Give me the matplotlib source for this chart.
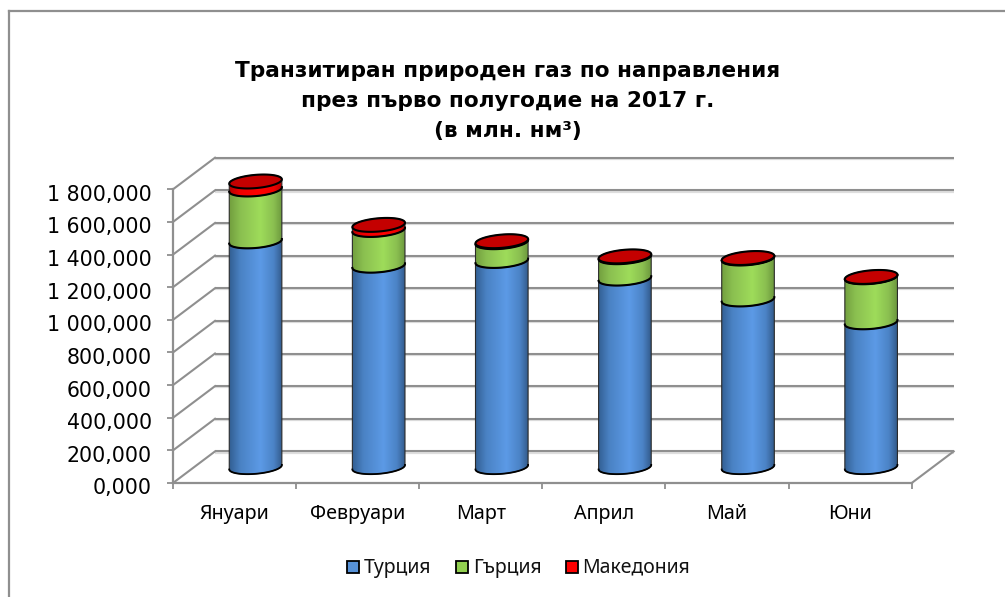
import numpy as np
import matplotlib
matplotlib.use("Agg")
import matplotlib.pyplot as plt
from matplotlib.colors import LinearSegmentedColormap
from matplotlib.lines import Line2D
from matplotlib.patches import PathPatch, Polygon, Rectangle
from matplotlib.path import Path
from matplotlib.transforms import ScaledTranslation

# ---- data ----
months = ["Януари", "Февруари", "Март", "Април", "Май", "Юни"]
turkey = [1384, 1235, 1264, 1156, 1028, 888]
greece = [318, 219, 115, 131, 251, 276]
macedonia = [49, 31, 6, 5, 3, 2]
series_names = ["Турция", "Гърция", "Македония"]
y_ticks = [0, 200, 400, 600, 800, 1000, 1200, 1400, 1600, 1800]
title = "Транзитиран природен газ по направления\nпрез първо полугодие на 2017 г.\n(в млн. нм³)"

# ---- style ----
W, H = 1005, 597
GRAY = "#8f8f8f"
LETTERS = ["Noto Sans", "DejaVu Sans"]
plt.rcParams["font.family"] = ["DejaVu Sans"]
fig = plt.figure(figsize=(W / 100, H / 100), dpi=100, facecolor="white")
L, R, B, T = 173.0, 911.7, 483.0, 189.3
ax = fig.add_axes([L / W, 1 - B / H, (R - L) / W, (B - T) / H])
ax.set_xlim(0, len(months))
ax.set_ylim(0, 1800)
ax.patch.set_alpha(0)

sx = (R - L) / len(months)     # px per category
sy = (B - T) / 1800            # px per value
depth_x = 42.0 / sx            # 3D depth, data units
depth_y = 31.6 / sy
bar_half = 26.4                # px
ell_b = 6.6                    # px
tilt = np.deg2rad(5.0)

for s in ["top", "right"]:
    ax.spines[s].set_visible(False)
for s in ["left", "bottom"]:
    ax.spines[s].set_color(GRAY)
    ax.spines[s].set_linewidth(1.6)
    ax.spines[s].set_zorder(2)

ax.set_yticks(y_ticks)
ax.set_yticklabels([f"{v:,.3f}".replace(",", " ").replace(".", ",") for v in y_ticks], fontsize=14.8)
ax.set_xticks(np.arange(len(months) + 1))
ax.set_xticklabels([])
ax.set_xticks(np.arange(len(months)) + 0.5, minor=True)
ax.set_xticklabels(months, minor=True, fontsize=14.2, family=LETTERS)
ax.tick_params(axis="both", which="major", color=GRAY, width=1.3, length=4.6)
ax.tick_params(axis="x", which="minor", length=0, pad=15)
ax.tick_params(axis="y", which="major", pad=10.5)
for lab in ax.get_yticklabels():
    lab.set_transform(lab.get_transform() + ScaledTranslation(0, -2.5 / 72, fig.dpi_scale_trans))

# walls and floor
shadow = 1.2 / sy
for v in y_ticks:
    back = v + depth_y
    ax.plot([depth_x, len(months) + depth_x], [back - shadow, back - shadow],
            color="#dedede", lw=1.6, clip_on=False, zorder=1, solid_capstyle="butt")
    ax.plot([depth_x, len(months) + depth_x], [back, back],
            color=GRAY, lw=1.5, clip_on=False, zorder=1, solid_capstyle="butt")
    ax.plot([0, depth_x], [v, back], color=GRAY, lw=1.5, clip_on=False, zorder=1)
ax.plot([len(months), len(months) + depth_x], [0, depth_y], color=GRAY, lw=1.5, clip_on=False, zorder=1)


def ramp(edge_l, mid_l, mid, mid_r, edge_r):
    return LinearSegmentedColormap.from_list(
        "c", [(0, edge_l), (0.22, mid_l), (0.58, mid), (0.82, mid_r), (1, edge_r)])


cmaps = [ramp("#2f5a8c", "#4a82c4", "#5c9ae6", "#4b83c6", "#2d527f"),
         ramp("#6f9a3c", "#8abf50", "#9edc5a", "#8abf50", "#66903a"),
         ramp("#b00000", "#f00000", "#ff0000", "#f00000", "#a80000")]


def ellipse(t):
    """Tilted ellipse outline relative to its centre, in data units."""
    xp = bar_half * np.cos(t) * np.cos(tilt) - ell_b * np.sin(t) * np.sin(tilt)
    yp = bar_half * np.cos(t) * np.sin(tilt) + ell_b * np.sin(t) * np.cos(tilt)
    return xp / sx, yp / sy


t_low = np.linspace(np.pi, 2 * np.pi, 60)     # near (lower) half
t_up = np.linspace(0, np.pi, 60)              # far (upper) half
grad = np.linspace(0, 1, 256)[None, :]

stack = np.array([turkey, greece, macedonia], dtype=float)
for i in range(len(months)):
    cx = i + 0.5 + depth_x / 2
    base = depth_y / 2
    for k in range(3):
        y0 = base + stack[:k, i].sum()
        y1 = y0 + stack[k, i]
        ex_l, ey_l = ellipse(t_low)
        ex_u, ey_u = ellipse(t_up)
        verts = np.r_[np.c_[cx + ex_l, y0 + ey_l], np.c_[cx + ex_u, y1 + ey_u]]
        z = 4 + k
        ax.add_patch(Polygon(verts, closed=True, facecolor="none", edgecolor="#2a2a2a",
                             lw=0.8, clip_on=False, zorder=z + 0.2))
        im = ax.imshow(grad, cmap=cmaps[k], aspect="auto", zorder=z, interpolation="bilinear",
                       extent=[cx - 1.05 * bar_half / sx, cx + 1.05 * bar_half / sx,
                               y0 - 2 * ell_b / sy, y1 + 2 * ell_b / sy])
        clip = PathPatch(Path(verts), transform=ax.transData, facecolor="none", edgecolor="none")
        im.set_clip_box(fig.bbox)
        im.set_clip_path(clip)
        ax.plot(cx + ex_l, y0 + ey_l, color="black", lw=1.5 if k else 1.3, clip_on=False, zorder=z + 0.3)
    # top cap
    top = stack[:, i].sum() + base
    ex, ey = ellipse(np.linspace(0, 2 * np.pi, 120))
    ax.add_patch(Polygon(np.c_[cx + ex, top + ey], closed=True, facecolor="#c40000",
                         edgecolor="black", lw=1.5, clip_on=False, zorder=8))
ax.set_xlim(0, len(months))
ax.set_ylim(0, 1800)

# legend (keys and labels on one shared baseline)
legend_colors = ["#5792d8", "#92d050", "#ff0000"]
key_left = [346.5, 456, 565.5]
text_left = [364, 473, 582]
for c, n, kx, tx in zip(legend_colors, series_names, key_left, text_left):
    fig.add_artist(Rectangle((kx / W, 1 - 572.5 / H), 12 / W, 12 / H, transform=fig.transFigure,
                             facecolor=c, edgecolor="black", lw=1.3))
    fig.text(tx / W, 1 - 572.5 / H, n, ha="left", va="baseline", family=LETTERS, fontsize=14.0, color="#111111")

fig.text(508 / W, 1 - 101 / H, title, ha="center", va="center", fontsize=15.6, fontweight="bold", linespacing=1.62)

# chart-area frame (only top and left are inside the picture)
fig.add_artist(Line2D([9 / W, 9 / W], [0, 1 - 11 / H], color=GRAY, lw=1.6))
fig.add_artist(Line2D([9 / W, 1], [1 - 11 / H, 1 - 11 / H], color=GRAY, lw=1.6))

fig.savefig("out.png", dpi=100, facecolor="white")
